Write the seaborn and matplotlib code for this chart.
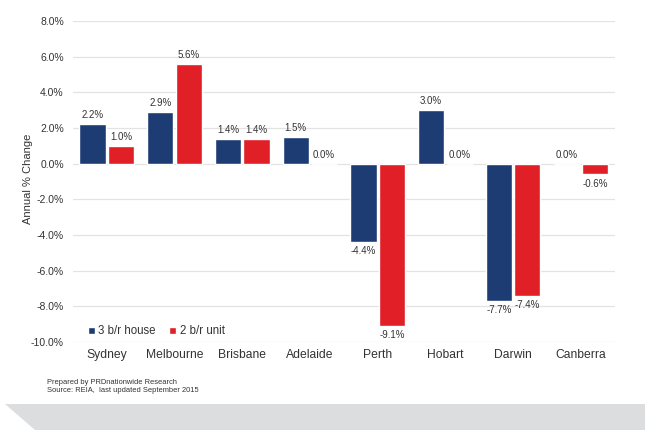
import pandas as pd
import numpy as np
import matplotlib.pyplot as plt
import seaborn as sns
from matplotlib.patches import Polygon
from matplotlib.ticker import FuncFormatter

# data
cities = ['Sydney', 'Melbourne', 'Brisbane', 'Adelaide', 'Perth', 'Hobart', 'Darwin', 'Canberra']
house_3br = [2.2, 2.9, 1.4, 1.5, -4.4, 3.0, -7.7, 0.0]
unit_2br = [1.0, 5.6, 1.4, 0.0, -9.1, 0.0, -7.4, -0.6]
series_names = ['3 b/r house', '2 b/r unit']
y_ticks = [-10, -8, -6, -4, -2, 0, 2, 4, 6, 8]

df = pd.DataFrame({
    'City': cities * 2,
    'Change': house_3br + unit_2br,
    'Type': [series_names[0]] * len(cities) + [series_names[1]] * len(cities),
})

sns.set_style('white')
plt.rcParams['font.family'] = ['Liberation Sans', 'DejaVu Sans']

fig = plt.figure(figsize=(6.45, 4.3), dpi=100)
ax = fig.add_axes([0.113, 0.2047, 0.84, 0.7463])

sns.barplot(data=df, x='City', y='Change', hue='Type', order=cities,
            hue_order=series_names, palette=['#1d3c74', '#e01f26'],
            width=0.84, gap=0.08, saturation=1, ax=ax)

# value labels
for cont, vals in zip(ax.containers, [house_3br, unit_2br]):
    for bar, v in zip(cont, vals):
        xc = bar.get_x() + bar.get_width() / 2
        if v < 0:
            ax.annotate(f'{v:.1f}%', (xc, v), xytext=(0, -3), textcoords='offset points',
                        ha='center', va='top', fontsize=7, color='#333333')
        else:
            ax.annotate(f'{v:.1f}%', (xc, v), xytext=(0, 3), textcoords='offset points',
                        ha='center', va='bottom', fontsize=7, color='#333333')

ax.set_ylim(-10, 8)
ax.set_yticks(y_ticks)
ax.yaxis.set_major_formatter(FuncFormatter(lambda v, p: f'{v:.1f}%'))
ax.grid(axis='y', color='#e3e3e3', lw=0.9)
ax.set_axisbelow(True)
for s in ax.spines.values():
    s.set_visible(False)
ax.tick_params(axis='y', labelsize=7.5, colors='#333333', length=0, pad=6.5)
ax.tick_params(axis='x', labelsize=8.7, colors='#333333', length=0, pad=5)
ax.set_xlabel('')
ax.set_ylabel('Annual % Change', fontsize=8, color='#333333')
ax.yaxis.set_label_coords(-0.074, 0.51)

ax.legend(loc='lower left', bbox_to_anchor=(0.019, 0.0), borderaxespad=0, ncol=2,
          frameon=False, fontsize=8.3, handlelength=0.6, handleheight=0.6,
          handletextpad=0.3, columnspacing=1.2, labelcolor='#333333')

fig.text(0.073, 0.108, 'Prepared by PRDnationwide Research', fontsize=5.4, color='#333333')
fig.text(0.073, 0.088, 'Source: REIA,  last updated September 2015', fontsize=5.4, color='#333333')

# grey band at the bottom
band = Polygon([[5 / 645, 1 - 404 / 430], [1, 1 - 404 / 430], [1, 0], [35 / 645, 0]],
               closed=True, transform=fig.transFigure, facecolor='#dcdddf', edgecolor='none')
fig.patches.append(band)

fig.savefig('out.png', dpi=100)
